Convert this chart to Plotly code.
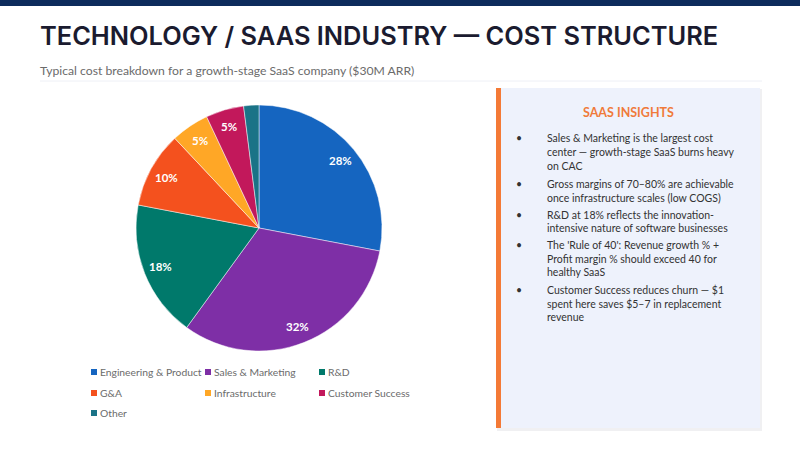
import plotly.graph_objects as go
import math

# ---- data ----
categories = ["Engineering & Product", "Sales & Marketing", "R&D", "G&A",
              "Infrastructure", "Customer Success", "Other"]
shares = [28, 32, 18, 10, 5, 5, 2]
slice_colors = ["#1565C0", "#7E2FA6", "#00796B", "#F4511E",
                "#FFA726", "#C2185B", "#1A7387"]

title_text = "TECHNOLOGY / SAAS INDUSTRY — COST STRUCTURE"
subtitle_text = "Typical cost breakdown for a growth-stage SaaS company ($30M ARR)"
panel_title = "SAAS INSIGHTS"
insights = [
    ["Sales & Marketing is the largest cost", "center — growth-stage SaaS burns heavy", "on CAC"],
    ["Gross margins of 70–80% are achievable", "once infrastructure scales (low COGS)"],
    ["R&D at 18% reflects the innovation-", "intensive nature of software businesses"],
    ["The 'Rule of 40': Revenue growth % +", "Profit margin % should exceed 40 for", "healthy SaaS"],
    ["Customer Success reduces churn — $1", "spent here saves $5–7 in replacement", "revenue"],
]

W, H = 800, 450
def px(x):
    return x / W
def py(y):
    return 1 - y / H

CX, CY, R = 259, 228, 123

fig = go.Figure()
fig.add_trace(go.Pie(
    labels=categories, values=shares, sort=False, direction="clockwise",
    rotation=0,
    marker=dict(colors=slice_colors, line=dict(color="rgba(255,255,255,0.6)", width=0.8)),
    textinfo="none", hoverinfo="label+percent", showlegend=False,
    domain=dict(x=[px(CX - R), px(CX + R)], y=[py(CY + R), py(CY - R)]),
))

shapes = []
annotations = []

# top bar
shapes.append(dict(type="rect", xref="paper", yref="paper", x0=0, x1=1, y0=py(6), y1=1,
                   fillcolor="#0D2B5C", line=dict(width=0), layer="below"))
# divider
shapes.append(dict(type="line", xref="paper", yref="paper", x0=px(40), x1=px(762),
                   y0=py(81), y1=py(81), line=dict(color="#EEF0F6", width=1)))

# title / subtitle
annotations.append(dict(text=title_text, xref="paper", yref="paper", x=px(38), y=py(36),
                        xanchor="left", yanchor="middle", showarrow=False,
                        font=dict(family="Inter", size=25.4, color="#1B1B2F", weight=600)))
annotations.append(dict(text=subtitle_text, xref="paper", yref="paper", x=px(38), y=py(70),
                        xanchor="left", yanchor="middle", showarrow=False,
                        font=dict(family="Lato", size=12.2, color="#6B6B6B")))

# pie percentage labels (placed at 0.86 R at each slice's mid angle)
cum = 0
total = sum(shares)
for v in shares:
    mid = (cum + v / 2) / total * 2 * math.pi
    cum += v
    if v < 4:
        continue
    lx = CX + 0.86 * R * math.sin(mid)
    ly = CY - 0.86 * R * math.cos(mid)
    annotations.append(dict(text=f"<b>{v}%</b>", xref="paper", yref="paper",
                            x=px(lx), y=py(ly), showarrow=False,
                            xanchor="center", yanchor="middle",
                            font=dict(family="Lato", size=11.5, color="white")))

# manual legend
leg_cols = [94, 208, 322]
leg_rows = [372, 393, 413]
for i, (lab, col) in enumerate(zip(categories, slice_colors)):
    c = i % 3
    r = i // 3
    mx = leg_cols[c]
    my = leg_rows[r]
    shapes.append(dict(type="rect", xref="paper", yref="paper",
                       x0=px(mx - 3), x1=px(mx + 3), y0=py(my + 3), y1=py(my - 3),
                       fillcolor=col, line=dict(width=0)))
    annotations.append(dict(text=lab, xref="paper", yref="paper", x=px(mx + 4), y=py(my),
                            xanchor="left", yanchor="middle", showarrow=False,
                            font=dict(family="Lato", size=10.3, color="#6B6B6B")))

# insights panel
shapes.append(dict(type="rect", xref="paper", yref="paper", x0=px(497), x1=px(762),
                   y0=py(431), y1=py(89), fillcolor="rgba(0,0,30,0.06)", line=dict(width=0)))
shapes.append(dict(type="rect", xref="paper", yref="paper", x0=px(496), x1=px(760),
                   y0=py(428), y1=py(88), fillcolor="#EEF2FC", line=dict(width=0)))
shapes.append(dict(type="rect", xref="paper", yref="paper", x0=px(496), x1=px(501),
                   y0=py(428), y1=py(88), fillcolor="#F47A36", line=dict(width=0)))
annotations.append(dict(text=f"<b>{panel_title}</b>", xref="paper", yref="paper",
                        x=px(628), y=py(112), xanchor="center", yanchor="middle",
                        showarrow=False, font=dict(family="Lato", size=12.5, color="#F07A3A")))

line_gap = 13.5
bullet_starts = [138.5, 184, 214.5, 245, 290]
for b, lines in enumerate(insights):
    y0 = bullet_starts[b]
    annotations.append(dict(text="•", xref="paper", yref="paper", x=px(519), y=py(y0),
                            xanchor="center", yanchor="middle", showarrow=False,
                            font=dict(family="Lato", size=10.5, color="#333333")))
    for k, t in enumerate(lines):
        annotations.append(dict(text=t, xref="paper", yref="paper", x=px(545),
                                y=py(y0 + k * line_gap), xanchor="left", yanchor="middle",
                                showarrow=False,
                                font=dict(family="Lato", size=10.5, color="#333333")))

fig.update_layout(
    width=W, height=H, margin=dict(l=0, r=0, t=0, b=0),
    paper_bgcolor="white", plot_bgcolor="white",
    shapes=shapes, annotations=annotations, showlegend=False,
)

fig.write_html("out.html", config={"displayModeBar": False},
               post_script="document.body.style.margin='0';document.body.style.overflow='hidden';")
